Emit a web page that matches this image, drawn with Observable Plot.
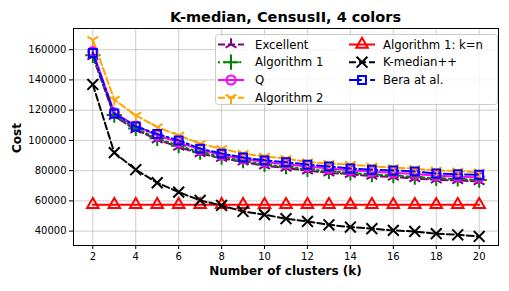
<!DOCTYPE html>
<html><head><meta charset="utf-8">
<script src="https://cdn.jsdelivr.net/npm/d3@7"></script>
<script src="https://cdn.jsdelivr.net/npm/@observablehq/plot@0.6"></script>
<style>
body{margin:0;background:#fff;font-family:"DejaVu Sans",sans-serif;}
#wrap{position:relative;width:509px;height:291px;overflow:hidden;}
#title{position:absolute;left:73px;width:425px;top:7px;text-align:center;font-weight:bold;font-size:14.5px;line-height:20px;}
#chart{position:absolute;left:0;top:26px;}
#legend{position:absolute;left:215px;top:34px;}
#xlabel{position:absolute;left:73px;width:425px;top:263px;text-align:center;font-weight:bold;font-size:12px;line-height:16px;}
#ylabel{position:absolute;left:17px;top:138px;transform:translate(-50%,-50%) rotate(-90deg);font-weight:bold;font-size:12px;line-height:16px;white-space:nowrap;}
</style></head><body>
<div id="wrap">
<div id="title">K-median, CensusII, 4 colors</div>
<div id="chart"></div>
<div id="xlabel">Number of clusters (k)</div>
<div id="ylabel">Cost</div>
<svg id="legend" width="284" height="72"></svg>
</div>
<script>
const ks = [2,3,4,5,6,7,8,9,10,11,12,13,14,15,16,17,18,19,20];
const excellent = [155500,116000,107000,100500,95600,91300,88200,85800,83200,81700,79900,78600,77600,76400,75800,74800,73900,73500,72800];
const algorithm1 = [156300,116800,107900,101400,96500,92200,89000,86700,84100,82600,80900,79600,78600,77400,76800,75800,74900,74500,73800];
const q = [158800,118200,109600,103300,98700,93900,90400,87800,85700,84300,82700,81400,80200,79200,78600,77800,76700,76200,75500];
const algorithm2 = [166500,127000,116500,108800,103300,97800,94500,91300,89400,87900,85800,84700,84000,82900,82000,81300,80200,79600,79000];
const algorithm1KN = [57500,57500,57500,57500,57500,57500,57500,57500,57500,57500,57500,57500,57500,57500,57500,57500,57500,57500,57500];
const kmedianpp = [137000,91900,80600,72000,65800,60300,57000,53000,50900,48200,46400,44200,42700,41600,40500,39800,38300,37600,36500];
const bera = [157800,117800,109200,104200,100000,94600,91300,88700,86800,85600,84000,82800,81400,80600,80100,79500,78100,77600,77300];
const yTicks = [40000,60000,80000,100000,120000,140000,160000];
const xTicks = [2,4,6,8,10,12,14,16,18,20];

const triUp = {draw(ctx, size){const r = Math.sqrt(size/Math.PI)*1.25;
  ctx.moveTo(0,0); ctx.lineTo(0,-r); ctx.moveTo(0,0); ctx.lineTo(-0.866*r,0.5*r); ctx.moveTo(0,0); ctx.lineTo(0.866*r,0.5*r);}};
const triDown = {draw(ctx, size){const r = Math.sqrt(size/Math.PI)*1.25;
  ctx.moveTo(0,0); ctx.lineTo(0,r); ctx.moveTo(0,0); ctx.lineTo(-0.866*r,-0.5*r); ctx.moveTo(0,0); ctx.lineTo(0.866*r,-0.5*r);}};

const series = [
  {name:"Excellent", values:excellent, color:"#800080", dash:"7,3", symbol:triUp, d3sym:triUp, r:5},
  {name:"Algorithm 1", values:algorithm1, color:"#008000", dash:"2,3.3", symbol:"plus", d3sym:d3.symbolPlus, r:5},
  {name:"Q", values:q, color:"#ff00ff", dash:null, symbol:"circle", d3sym:d3.symbolCircle, r:4.6},
  {name:"Algorithm 2", values:algorithm2, color:"#ffa500", dash:"7,3", symbol:triDown, d3sym:triDown, r:5},
  {name:"Algorithm 1: k=n", values:algorithm1KN, color:"#ff0000", dash:null, symbol:"triangle2", d3sym:d3.symbolTriangle2, r:5.5},
  {name:"K-median++", values:kmedianpp, color:"#000000", dash:"7,3", symbol:"times", d3sym:d3.symbolTimes, r:5},
  {name:"Bera at al.", values:bera, color:"#0000ff", dash:"12.8,3.2,2,3.2", symbol:"square2", d3sym:d3.symbolSquare2, r:5}
];

const marks = [
  Plot.gridX(xTicks, {stroke:"#b0b0b0", strokeOpacity:0.8, strokeWidth:0.8}),
  Plot.gridY(yTicks, {stroke:"#b0b0b0", strokeOpacity:0.8, strokeWidth:0.8}),
];
for (const s of series) {
  const data = ks.map((k,i)=>({k, v:s.values[i]}));
  marks.push(Plot.line(data, {x:"k", y:"v", stroke:s.color, strokeWidth:2, strokeDasharray:s.dash || undefined}));
  marks.push(Plot.dot(data, {x:"k", y:"v", stroke:s.color, fill:"none", strokeWidth:2, symbol:s.symbol, r:s.r}));
}
marks.push(Plot.axisX(xTicks, {tickSize:4, tickPadding:3, label:null, fontSize:10}));
marks.push(Plot.axisY(yTicks, {tickSize:4, tickPadding:3, label:null, fontSize:10, tickFormat:d3.format("d")}));
marks.push(Plot.frame({stroke:"#000", strokeWidth:1}));

const chart = Plot.plot({
  width:509, height:265,
  marginLeft:73, marginRight:11, marginTop:2, marginBottom:46,
  style:{fontFamily:"DejaVu Sans", fontSize:"10px", color:"#000", background:"transparent"},
  x:{domain:[1.1,20.9]},
  y:{domain:[30500,174000]},
  marks
});
document.getElementById("chart").appendChild(chart);

// legend
const lg = d3.select("#legend");
lg.append("rect").attr("x",0.5).attr("y",0.5).attr("width",282).attr("height",70).attr("rx",3)
  .attr("fill","rgba(255,255,255,0.8)").attr("stroke","#cccccc");
const rows = [10.5,28.2,46,63.7];
series.forEach((s,i)=>{
  const col = i < 4 ? 0 : 1, row = i < 4 ? i : i-4;
  const hx0 = col ? 134 : 3, hx1 = col ? 160 : 29, tx = col ? 168 : 40, y = rows[row];
  const g = lg.append("g");
  g.append("line").attr("x1",hx0).attr("x2",hx1).attr("y1",y).attr("y2",y)
    .attr("stroke",s.color).attr("stroke-width",2).attr("stroke-dasharray",s.dash);
  g.append("path").attr("d", d3.symbol(s.d3sym, s.r*s.r*Math.PI)())
    .attr("transform",`translate(${(hx0+hx1)/2},${y})`).attr("fill","none").attr("stroke",s.color).attr("stroke-width",2);
  g.append("text").attr("x",tx).attr("y",y).attr("dy","0.35em").attr("font-size","11.7px")
    .attr("font-family","DejaVu Sans").text(s.name);
});
</script>
</body></html>
